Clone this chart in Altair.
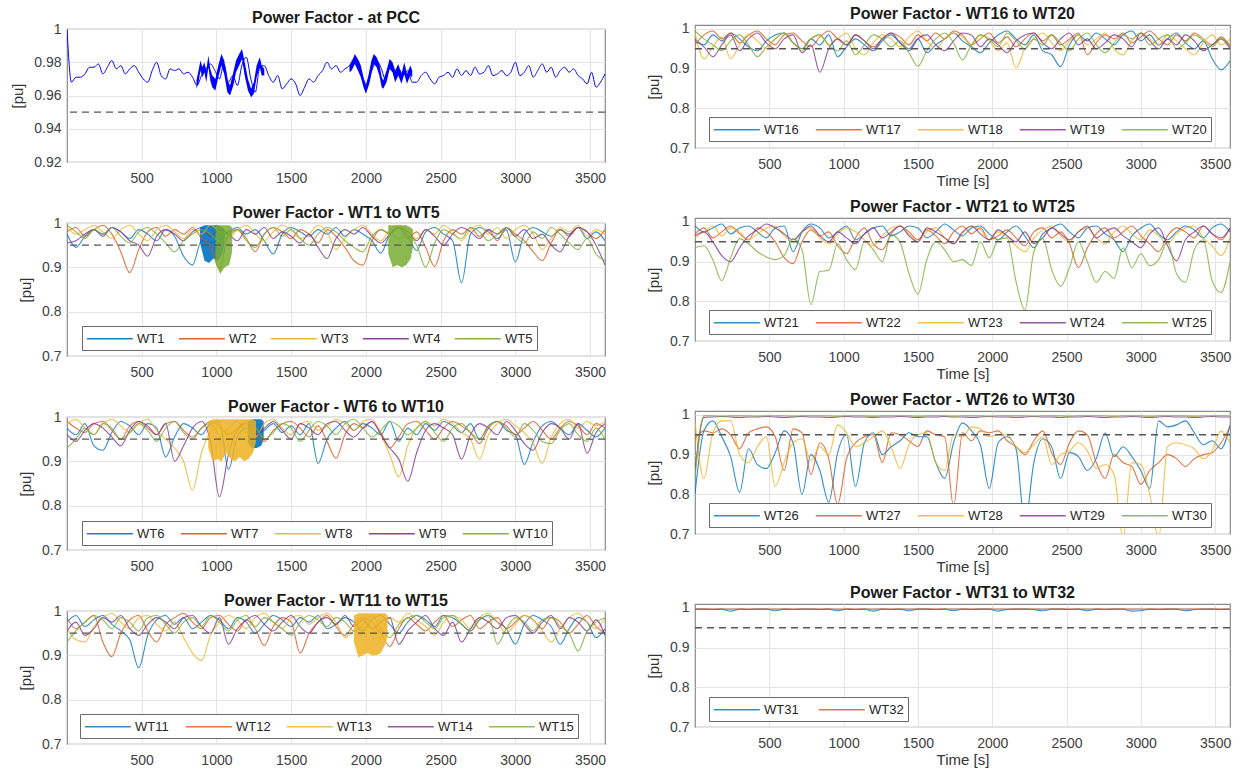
import altair as alt
import pandas as pd

FONT = "Liberation Sans"
COLORS = ["#0072BD", "#D95319", "#EDB120", "#7E2F8E", "#77AC30"]
PCC_COLOR = "#0000FF"
X_TICKS = [500, 1000, 1500, 2000, 2500, 3000, 3500]
PF_LIMIT = 0.95

T60 = list(range(0, 3601, 60))   # turbine samples (s)
T30 = list(range(0, 3601, 30))   # PCC samples (s)

# ---------------- PCC power factor [pu] ----------------
PCC = [1.000, .968, .971, .971, .973, .977, .977, .979, .973, .977,
       .981, .976, .978, .973, .976, .978, .974, .970, .968, .975,
       .980, .972, .970, .976, .975, .976, .973, .974, .971, .966,
       .972, .976, .979, .975, .970, .979, .968, .972, .966, .978,
       .983, .970, .962, .977, .978, .972, .968, .972, .964, .967,
       .970, .967, .960, .965, .970, .968, .972, .975, .980, .976,
       .978, .974, .976, .978, .982, .976, .970, .966, .975, .981,
       .977, .970, .978, .974, .976, .972, .975, .968, .968, .972,
       .974, .970, .967, .971, .972, .974, .971, .976, .972, .975,
       .972, .977, .973, .974, .978, .972, .973, .975, .972, .974,
       .980, .972, .974, .978, .971, .975, .979, .974, .977, .971,
       .975, .977, .974, .976, .972, .970, .967, .974, .965, .968,
       .973]
# dense oscillation bursts at PCC: envelope (low / high) along the burst
PCC_B1_T = [866, 880, 893, 906, 919, 932, 946, 959, 972, 993, 1012, 1033, 1052, 1073,
            1091, 1113, 1131, 1152, 1171, 1189, 1211, 1232, 1250, 1269, 1290, 1303, 1320]
PCC_B1_LO = [.964, .968, .975, .971, .974, .968, .977, .969, .965, .963, .971, .978, .973, .962,
             .960, .966, .974, .978, .982, .972, .963, .959, .961, .971, .977, .972, .972]
PCC_B1_HI = [.969, .975, .981, .977, .980, .975, .984, .976, .972, .970, .978, .985, .981, .969,
             .966, .974, .981, .985, .988, .980, .970, .964, .968, .978, .983, .978, .976]
PCC_B2_T = [1890, 1905, 1926, 1952, 1966, 1984, 2000, 2019, 2037, 2053, 2072, 2090, 2106, 2116,
            2138, 2159, 2178, 2196, 2217, 2238, 2257, 2275, 2297, 2310]
PCC_B2_LO = [.974, .975, .979, .974, .971, .965, .961, .966, .974, .979, .977, .972, .965, .964,
             .968, .976, .974, .968, .972, .967, .973, .967, .972, .971]
PCC_B2_HI = [.978, .980, .985, .981, .978, .971, .966, .973, .981, .985, .983, .979, .971, .969,
             .975, .982, .980, .975, .979, .973, .980, .973, .978, .975]

# ---------------- turbines, power factor x1000 ----------------
WT1 = [975, 945, 970, 985, 975, 990, 980, 965, 985, 975,
       960, 985, 970, 925, 905, 960, 955, 965, 980, 990,
       975, 985, 960, 930, 975, 990, 980, 970, 985, 975,
       990, 970, 985, 975, 960, 932, 975, 990, 970, 938,
       980, 990, 975, 960, 865, 975, 990, 980, 965, 985,
       912, 975, 990, 980, 970, 985, 975, 990, 965, 980, 960]
WT2 = [980, 990, 970, 985, 995, 975, 935, 888, 940, 980,
       990, 970, 985, 975, 990, 965, 950, 895, 975, 985,
       965, 935, 975, 990, 980, 965, 985, 975, 955, 985,
       970, 945, 915, 905, 960, 985, 975, 990, 965, 980,
       945, 902, 960, 985, 975, 990, 970, 985, 960, 990,
       975, 960, 935, 915, 955, 985, 970, 990, 980, 965, 985]
WT3 = [990, 975, 985, 995, 980, 965, 985, 995, 975, 960,
       985, 995, 980, 965, 985, 975, 995, 980, 965, 985,
       995, 975, 960, 980, 995, 985, 965, 975, 995, 980,
       940, 965, 985, 995, 975, 960, 985, 995, 980, 965,
       985, 975, 995, 980, 960, 985, 995, 975, 990, 965,
       985, 995, 975, 940, 965, 990, 980, 995, 970, 985, 975]
WT4 = [955, 960, 975, 985, 970, 990, 980, 960, 950, 925,
       970, 985, 975, 960, 980, 990, 970, 985, 975, 960,
       985, 975, 990, 965, 980, 970, 955, 975, 945, 920,
       965, 985, 975, 990, 970, 955, 975, 990, 980, 960,
       985, 970, 950, 975, 990, 980, 965, 985, 975, 990,
       970, 985, 965, 975, 950, 935, 970, 990, 980, 950, 905]
WT5 = [995, 980, 965, 985, 975, 990, 970, 955, 980, 990,
       975, 955, 935, 960, 975, 985, 975, 960, 970, 985,
       960, 945, 975, 990, 970, 985, 965, 950, 975, 990,
       980, 960, 945, 935, 970, 985, 975, 965, 970, 950,
       900, 955, 985, 975, 965, 990, 980, 960, 975, 990,
       970, 955, 980, 965, 990, 975, 955, 940, 965, 930, 915]
WT1_B_T = [890, 920, 950, 980, 1010, 1040, 1055]
WT1_B_LO = [955, 915, 910, 920, 915, 930, 955]
WT1_B_HI = [990, 995, 995, 995, 995, 990, 985]
WT5_B1_T = [995, 1025, 1055, 1085, 1105]
WT5_B1_LO = [910, 885, 900, 905, 935]
WT5_B1_HI = [995, 995, 995, 995, 990]
WT5_B2_T = [2150, 2180, 2210, 2240, 2270, 2300, 2315]
WT5_B2_LO = [930, 900, 905, 900, 905, 920, 945]
WT5_B2_HI = [995, 995, 995, 995, 995, 990, 985]

WT6 = [975, 960, 985, 935, 925, 965, 990, 980, 960, 985,
       975, 910, 955, 985, 975, 960, 985, 990, 882, 955,
       975, 960, 970, 985, 965, 980, 960, 985, 895, 950,
       975, 990, 970, 985, 975, 960, 990, 945, 975, 960,
       985, 970, 990, 980, 965, 985, 950, 980, 990, 970,
       960, 893, 945, 980, 990, 975, 960, 985, 970, 955, 975]
WT7 = [990, 975, 965, 985, 990, 970, 950, 980, 990, 975,
       960, 985, 990, 970, 955, 975, 990, 980, 960, 975,
       990, 965, 945, 970, 985, 990, 975, 955, 980, 945,
       907, 960, 985, 975, 990, 965, 930, 955, 985, 990,
       970, 950, 975, 990, 980, 965, 940, 975, 990, 980,
       960, 975, 990, 970, 950, 975, 990, 980, 960, 985, 975]
WT8 = [985, 995, 975, 960, 985, 995, 980, 965, 985, 995,
       970, 950, 930, 900, 835, 920, 965, 975, 960, 970,
       965, 955, 985, 995, 975, 960, 985, 990, 970, 980,
       995, 985, 970, 990, 995, 960, 915, 865, 935, 975,
       990, 980, 995, 985, 965, 950, 905, 960, 985, 995,
       980, 965, 940, 895, 955, 985, 995, 975, 990, 980, 990]
WT9 = [960, 945, 970, 985, 975, 955, 935, 970, 990, 980,
       960, 985, 900, 935, 975, 990, 945, 820, 915, 970,
       985, 960, 975, 990, 970, 950, 985, 975, 960, 985,
       990, 970, 955, 975, 990, 960, 930, 905, 855, 920,
       970, 985, 975, 960, 905, 960, 985, 975, 960, 990,
       970, 940, 925, 965, 985, 975, 950, 985, 918, 965, 985]
WT10 = [930, 950, 975, 960, 985, 975, 950, 965, 985, 970,
        945, 975, 990, 965, 950, 975, 985, 960, 975, 990,
        965, 975, 950, 965, 985, 975, 945, 970, 990, 980,
        960, 985, 995, 975, 955, 970, 990, 980, 960, 975,
        990, 965, 945, 975, 985, 965, 950, 980, 990, 975,
        955, 985, 970, 945, 940, 970, 985, 960, 945, 975, 950]
WT8_B_T = [945, 975, 1005, 1035, 1065, 1095, 1125, 1155, 1185, 1215, 1245, 1265]
WT8_B_LO = [930, 900, 905, 900, 920, 905, 900, 910, 900, 905, 920, 945]
WT8_B_HI = [990, 995, 995, 995, 995, 995, 995, 995, 995, 995, 995, 990]
WT6_B_T = [1210, 1240, 1270, 1300, 1316]
WT6_B_LO = [940, 930, 930, 935, 950]
WT6_B_HI = [990, 995, 995, 995, 990]

WT11 = [975, 990, 965, 980, 990, 970, 955, 935, 872, 945,
        980, 990, 970, 985, 960, 975, 990, 980, 960, 985,
        975, 950, 970, 990, 980, 965, 985, 975, 990, 960,
        970, 985, 975, 955, 980, 990, 970, 950, 975, 990,
        980, 965, 990, 985, 970, 955, 980, 990, 975, 960,
        925, 970, 990, 980, 965, 925, 960, 985, 975, 940, 960]
WT12 = [985, 960, 975, 990, 930, 897, 950, 980, 990, 955,
        930, 970, 985, 995, 975, 960, 985, 990, 970, 955,
        980, 960, 922, 965, 985, 975, 905, 950, 975, 990,
        965, 945, 970, 985, 975, 950, 920, 960, 985, 970,
        955, 975, 990, 965, 980, 990, 960, 975, 985, 960,
        975, 990, 980, 960, 985, 975, 950, 970, 990, 965, 950]
WT13 = [960, 935, 930, 965, 985, 995, 975, 960, 985, 990,
        970, 955, 975, 940, 905, 888, 945, 975, 990, 980,
        960, 985, 995, 975, 960, 985, 990, 970, 985, 995,
        975, 940, 955, 960, 965, 955, 985, 975, 995, 980,
        965, 945, 975, 990, 980, 960, 985, 995, 975, 950,
        970, 990, 980, 955, 930, 960, 985, 995, 975, 960, 985]
WT14 = [955, 975, 945, 960, 985, 975, 990, 960, 945, 970,
        985, 975, 960, 985, 990, 965, 950, 985, 925, 960,
        980, 990, 970, 955, 975, 990, 965, 950, 975, 985,
        970, 990, 965, 980, 960, 975, 985, 925, 955, 975,
        990, 960, 945, 975, 930, 960, 985, 975, 960, 985,
        990, 970, 950, 975, 990, 960, 985, 975, 955, 980, 945]
WT15 = [930, 955, 975, 990, 980, 960, 985, 975, 955, 985,
        990, 970, 950, 975, 985, 965, 990, 975, 955, 980,
        990, 965, 985, 975, 960, 945, 975, 990, 980, 965,
        985, 975, 955, 970, 990, 960, 940, 970, 985, 990,
        975, 960, 985, 990, 970, 955, 980, 990, 925, 960,
        985, 975, 955, 980, 985, 965, 950, 910, 955, 975, 985]
WT13_B_T = [1920, 1950, 1980, 2010, 2040, 2070, 2100, 2130, 2145]
WT13_B_LO = [930, 895, 900, 905, 900, 900, 905, 925, 945]
WT13_B_HI = [990, 995, 995, 995, 995, 995, 995, 995, 990]

WT16 = [975, 960, 985, 970, 990, 975, 955, 945, 970, 985,
        990, 965, 950, 975, 960, 985, 930, 955, 975, 960,
        945, 970, 985, 965, 950, 975, 940, 960, 975, 990,
        970, 955, 940, 965, 985, 995, 975, 960, 985, 945,
        935, 905, 960, 985, 970, 990, 975, 960, 985, 995,
        970, 985, 960, 975, 990, 965, 950, 970, 925, 897, 920]
WT17 = [960, 985, 995, 975, 990, 965, 985, 995, 975, 960,
        985, 990, 970, 955, 980, 995, 975, 960, 985, 970,
        955, 975, 990, 980, 960, 985, 970, 990, 975, 995,
        985, 960, 975, 990, 965, 980, 955, 975, 990, 970,
        985, 960, 975, 990, 935, 965, 985, 975, 990, 965,
        980, 995, 975, 960, 985, 970, 990, 975, 960, 980, 955]
WT18 = [990, 925, 955, 980, 925, 960, 985, 970, 950, 975,
        990, 965, 945, 975, 985, 960, 975, 990, 950, 935,
        965, 985, 975, 955, 980, 995, 970, 950, 975, 990,
        980, 960, 985, 970, 945, 965, 902, 950, 975, 990,
        965, 945, 970, 985, 960, 975, 990, 950, 935, 970,
        990, 975, 960, 985, 970, 950, 935, 965, 985, 960, 975]
WT19 = [970, 955, 930, 960, 985, 945, 975, 990, 965, 950,
        975, 985, 940, 960, 891, 950, 975, 960, 985, 970,
        950, 975, 990, 965, 945, 975, 985, 960, 945, 970,
        990, 985, 955, 975, 960, 940, 970, 985, 990, 965,
        950, 975, 990, 960, 975, 950, 965, 985, 975, 955,
        990, 970, 950, 975, 960, 985, 970, 945, 960, 975, 950]
WT20 = [995, 975, 960, 945, 970, 985, 960, 930, 955, 975,
        990, 965, 950, 975, 985, 960, 945, 970, 935, 960,
        985, 975, 955, 970, 940, 906, 945, 975, 990, 965,
        922, 960, 985, 975, 955, 990, 970, 950, 975, 960,
        985, 965, 945, 975, 990, 960, 940, 965, 985, 975,
        990, 960, 975, 985, 950, 965, 985, 970, 955, 975, 960]

WT21 = [990, 975, 985, 995, 970, 985, 990, 975, 960, 985,
        990, 925, 975, 995, 985, 960, 975, 990, 955, 970,
        985, 990, 965, 975, 990, 985, 960, 975, 995, 980,
        965, 985, 990, 970, 955, 975, 990, 965, 935, 970,
        985, 995, 975, 960, 985, 990, 970, 955, 925, 965,
        985, 995, 970, 955, 975, 990, 980, 960, 985, 995, 975]
WT22 = [970, 985, 960, 975, 990, 970, 955, 985, 975, 950,
        910, 895, 950, 980, 965, 975, 940, 920, 960, 985,
        945, 930, 970, 990, 975, 955, 980, 965, 945, 975,
        990, 970, 985, 955, 965, 980, 960, 940, 975, 985,
        960, 975, 945, 885, 935, 970, 985, 960, 975, 990,
        965, 945, 925, 965, 985, 975, 960, 990, 970, 955, 985]
WT23 = [960, 975, 990, 965, 985, 975, 955, 970, 985, 990,
        965, 950, 975, 985, 960, 945, 970, 985, 975, 955,
        940, 965, 985, 990, 970, 950, 975, 985, 960, 945,
        970, 990, 980, 955, 975, 965, 940, 925, 960, 980,
        990, 965, 950, 975, 985, 960, 945, 975, 990, 970,
        955, 980, 965, 945, 970, 985, 990, 960, 940, 915, 960]
WT24 = [965, 975, 950, 915, 900, 935, 965, 980, 995, 985,
        970, 955, 975, 990, 965, 950, 975, 960, 945, 970,
        985, 960, 975, 990, 965, 950, 985, 975, 960, 945,
        975, 990, 970, 955, 980, 965, 950, 975, 945, 960,
        985, 970, 955, 975, 990, 960, 975, 985, 965, 950,
        935, 970, 985, 940, 902, 955, 975, 990, 970, 960, 985]
WT25 = [935, 940, 905, 852, 910, 958, 945, 925, 912, 905,
        915, 958, 930, 792, 875, 878, 945, 905, 880, 950,
        930, 900, 968, 948, 870, 818, 905, 950, 930, 900,
        905, 890, 950, 910, 955, 960, 850, 778, 925, 958,
        880, 838, 885, 950, 900, 848, 875, 858, 935, 885,
        920, 890, 905, 950, 870, 848, 930, 955, 852, 822, 900]

WT26 = [800, 960, 985, 945, 895, 805, 915, 875, 865, 905,
        960, 930, 800, 900, 860, 780, 905, 950, 820, 930,
        955, 900, 920, 935, 955, 945, 945, 880, 840, 930,
        980, 960, 925, 815, 930, 945, 915, 725, 880, 940,
        920, 840, 905, 895, 860, 890, 955, 895, 920, 895,
        860, 815, 985, 970, 975, 985, 955, 925, 935, 915, 975]
WT27 = [940, 960, 955, 965, 950, 915, 955, 965, 970, 945,
        860, 965, 955, 850, 930, 890, 775, 890, 930, 945,
        950, 880, 955, 950, 935, 920, 960, 950, 945, 770,
        955, 935, 960, 955, 960, 935, 920, 900, 935, 960,
        905, 875, 930, 960, 950, 880, 840, 900, 880, 870,
        825, 860, 880, 900, 890, 870, 890, 900, 905, 930, 970]
WT28 = [985, 840, 955, 985, 985, 900, 880, 920, 945, 820,
        880, 930, 940, 885, 920, 900, 975, 955, 920, 930,
        945, 960, 920, 865, 925, 950, 955, 880, 860, 950,
        945, 970, 965, 945, 950, 950, 920, 905, 925, 945,
        875, 900, 910, 930, 910, 865, 875, 850, 690, 880,
        875, 800, 690, 920, 930, 925, 915, 890, 910, 960, 930]
WT29 = [860, 994, 995, 996, 995, 994, 995, 995, 996, 995,
        994, 995, 996, 995, 995, 994, 995, 996, 995, 995,
        994, 995, 995, 996, 995, 994, 995, 995, 996, 995,
        995, 994, 995, 996, 995, 995, 994, 995, 996, 995,
        995, 994, 995, 995, 996, 995, 994, 995, 995, 996,
        995, 994, 995, 996, 995, 995, 994, 995, 996, 995, 995]
WT30 = [840, 998, 998, 997, 998, 998, 998, 997, 998, 998,
        998, 997, 998, 998, 998, 998, 997, 998, 998, 998,
        997, 998, 998, 998, 998, 997, 998, 998, 998, 997,
        998, 998, 998, 997, 998, 998, 998, 998, 997, 998,
        998, 998, 997, 998, 998, 998, 998, 997, 998, 998,
        998, 997, 998, 998, 998, 998, 997, 998, 998, 998, 998]

WT31 = [997, 997, 996, 997, 992, 997, 996, 997, 997, 993,
        997, 996, 997, 997, 996, 997, 993, 997, 996, 997,
        992, 997, 996, 997, 993, 997, 997, 996, 997, 993,
        997, 996, 997, 997, 992, 996, 997, 997, 996, 993,
        997, 997, 996, 997, 993, 997, 996, 997, 997, 992,
        993, 997, 996, 997, 997, 993, 996, 997, 997, 996, 997]
WT32 = [997, 997, 997, 997, 997, 997, 997, 997, 997, 997,
        997, 997, 997, 997, 997, 997, 997, 997, 997, 997,
        997, 997, 997, 997, 997, 997, 997, 997, 997, 997,
        997, 997, 997, 997, 997, 997, 997, 997, 997, 997,
        997, 997, 997, 997, 997, 997, 997, 997, 997, 997,
        997, 997, 997, 997, 997, 997, 997, 997, 997, 997, 997]

L_W, R_W = 538, 535
L_H, R_H = 133, 123

# wide line sample for the legend: unit path from -1 to 5 (scaled by sqrt(size)/2)
LEG_PATH = "M-1,0H5"
LEG_SIZE = 235


def legend(x, y, cp, n):
    return alt.Legend(title=None, orient="none", legendX=x, legendY=y,
                      direction="horizontal", columns=n, symbolType=LEG_PATH,
                      symbolSize=LEG_SIZE, symbolStrokeWidth=1.5, labelFont=FONT,
                      labelFontSize=13, labelColor="#262626", labelOffset=34,
                      fillColor="white", strokeColor="#6a6a6a", padding=4,
                      columnPadding=cp, gridAlign="all", zindex=1, labelLimit=200)


def band(t, lo, hi, col, div, over):
    return {"t": t, "lo": lo, "hi": hi, "col": col, "div": div, "over": over}


def panel(title, names, series, tgrid, div, ydom, yticks, w, h, xtitle, leg,
          bands=(), single=None, lw=1.1, op=0.8, toff=0):
    xs = alt.Scale(domain=[0, 3600], nice=False, zero=False)
    ys = alt.Scale(domain=ydom, nice=False, zero=False)
    xa = alt.Axis(values=X_TICKS, format="d", title=xtitle, labelPadding=9,
                  titlePadding=2)
    ya = alt.Axis(values=yticks, format="~g", title="[pu]", labelPadding=6,
                  titlePadding=8)

    rows = []
    for n, vals in zip(names, series):
        for t, v in zip(tgrid, vals):
            rows.append({"t": t, "v": v / div, "s": n})
    df = pd.DataFrame(rows)

    if single:
        color = alt.value(single)
    else:
        color = alt.Color("s:N", scale=alt.Scale(domain=names, range=COLORS[:len(names)]),
                          legend=leg)

    def band_layer(bs, opacity):
        r = []
        for i, b in enumerate(bs):
            for t, lo, hi in zip(b["t"], b["lo"], b["hi"]):
                r.append({"t": t, "lo": lo / b["div"], "hi": hi / b["div"],
                          "col": b["col"], "g": "b%d" % i})
        return alt.Chart(pd.DataFrame(r)).mark_area(clip=True, opacity=opacity).encode(
            x=alt.X("t:Q", scale=xs, axis=xa),
            y=alt.Y("lo:Q", scale=ys, axis=ya),
            y2="hi:Q",
            color=alt.Color("col:N", scale=None),
            detail="g:N",
        )

    layers = []
    under = [b for b in bands if not b["over"]]
    over = [b for b in bands if b["over"]]
    if under:
        layers.append(band_layer(under, 0.9))
    layers.append(
        alt.Chart(df).mark_line(clip=True, strokeWidth=lw, opacity=op,
                                interpolate="monotone").encode(
            x=alt.X("t:Q", scale=xs, axis=xa),
            y=alt.Y("v:Q", scale=ys, axis=ya),
            color=color,
            detail="s:N",
        )
    )
    if over:
        layers.append(band_layer(over, 0.85 if not single else 1.0))
    layers.append(
        alt.Chart(pd.DataFrame({"pf": [PF_LIMIT]})).mark_rule(
            strokeDash=[7, 5], color="#555555", strokeWidth=1.4).encode(
            y=alt.Y("pf:Q", scale=ys, axis=ya))
    )
    return alt.layer(*layers).properties(
        width=w, height=h,
        title=alt.TitleParams(title, font=FONT, fontSize=16, fontWeight="bold",
                              color="#1a1a1a", offset=toff, anchor="middle", frame="group"),
    )


LY = [0.7, 0.8, 0.9, 1.0]

p_pcc = panel("Power Factor - at PCC", ["PCC"], [PCC], T30, 1, [0.92, 1.0],
              [0.92, 0.94, 0.96, 0.98, 1.0], L_W, L_H, None, None,
              bands=[band(PCC_B1_T, PCC_B1_LO, PCC_B1_HI, PCC_COLOR, 1, True),
                     band(PCC_B2_T, PCC_B2_LO, PCC_B2_HI, PCC_COLOR, 1, True)],
              single=PCC_COLOR, lw=1.0, op=1.0, toff=-4)
p1 = panel("Power Factor - WT1 to WT5", ["WT1", "WT2", "WT3", "WT4", "WT5"],
           [WT1, WT2, WT3, WT4, WT5], T60, 1000, [0.7, 1.0], LY, L_W, L_H, None,
           legend(15, 103, 10, 5),
           bands=[band(WT1_B_T, WT1_B_LO, WT1_B_HI, COLORS[0], 1000, False),
                  band(WT5_B1_T, WT5_B1_LO, WT5_B1_HI, COLORS[4], 1000, True),
                  band(WT5_B2_T, WT5_B2_LO, WT5_B2_HI, COLORS[4], 1000, True)], toff=-5)
p2 = panel("Power Factor - WT6 to WT10", ["WT6", "WT7", "WT8", "WT9", "WT10"],
           [WT6, WT7, WT8, WT9, WT10], T60, 1000, [0.7, 1.0], LY, L_W, L_H, None,
           legend(15, 104, 5, 5),
           bands=[band(WT6_B_T, WT6_B_LO, WT6_B_HI, COLORS[0], 1000, False),
                  band(WT8_B_T, WT8_B_LO, WT8_B_HI, COLORS[2], 1000, True)], toff=-5)
p3 = panel("Power Factor - WT11 to WT15", ["WT11", "WT12", "WT13", "WT14", "WT15"],
           [WT11, WT12, WT13, WT14, WT15], T60, 1000, [0.7, 1.0], LY, L_W, L_H, None,
           legend(13, 103, 12, 5),
           bands=[band(WT13_B_T, WT13_B_LO, WT13_B_HI, COLORS[2], 1000, True)], toff=-5)

RDOM = [0.7, 1.01]
p4 = panel("Power Factor - WT16 to WT20", ["WT16", "WT17", "WT18", "WT19", "WT20"],
           [WT16, WT17, WT18, WT19, WT20], T60, 1000, RDOM, LY, R_W, R_H, "Time [s]",
           legend(14, 92, 13, 5))
p5 = panel("Power Factor - WT21 to WT25", ["WT21", "WT22", "WT23", "WT24", "WT25"],
           [WT21, WT22, WT23, WT24, WT25], T60, 1000, RDOM, LY, R_W, R_H, "Time [s]",
           legend(14, 92, 13, 5))
p6 = panel("Power Factor - WT26 to WT30", ["WT26", "WT27", "WT28", "WT29", "WT30"],
           [WT26, WT27, WT28, WT29, WT30], T60, 1000, RDOM, LY, R_W, R_H, "Time [s]",
           legend(14, 92, 13, 5))
p7 = panel("Power Factor - WT31 to WT32", ["WT31", "WT32"],
           [WT31, WT32], T60, 1000, RDOM, LY, R_W, R_H, "Time [s]",
           legend(14, 93, 16, 2))

# empty strip that lowers the left column by a few pixels relative to the right one
spacer = alt.Chart(pd.DataFrame({"a": [0]})).mark_point(opacity=0).encode(
    x=alt.X("a:Q", axis=None), y=alt.Y("a:Q", axis=None)
).properties(width=L_W, height=4, view=alt.ViewBackground(stroke="transparent"))

left_inner = alt.vconcat(p_pcc, p1, p2, p3, spacing=61, bounds="flush").resolve_scale(
    color="independent").resolve_legend(color="independent")
left = alt.vconcat(spacer, left_inner, spacing=0, bounds="flush").resolve_scale(
    color="independent").resolve_legend(color="independent")
right = alt.vconcat(p4, p5, p6, p7, spacing=70, bounds="flush").resolve_scale(
    color="independent").resolve_legend(color="independent")

chart = alt.hconcat(left, right, spacing=38).resolve_scale(
    color="independent").resolve_legend(color="independent")

chart = chart.properties(
    padding={"left": 10, "top": 5, "right": 4, "bottom": 0},
    background="white",
).configure_view(
    stroke="#8a8a8a", strokeWidth=1.2
).configure_axis(
    labelFont=FONT, labelFontSize=14, labelColor="#404040",
    titleFont=FONT, titleFontSize=15, titleFontWeight="normal", titleColor="#333333",
    gridColor="#e4e4e4", gridWidth=1, domain=False, ticks=False,
)

chart.save("out.html", embed_options={"renderer": "svg", "actions": False})
